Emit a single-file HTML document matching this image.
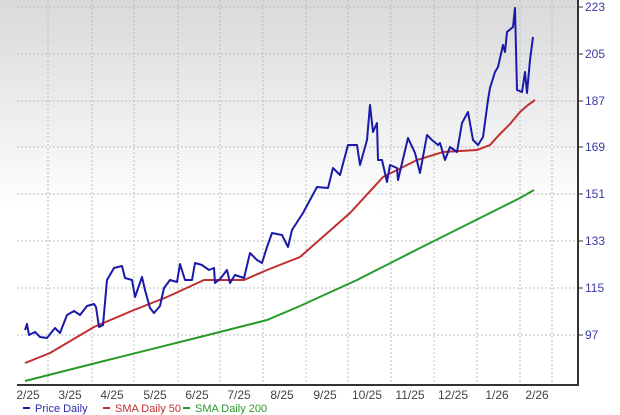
<!DOCTYPE html>
<html><head><style>
body{margin:0;background:#fff;}
svg{display:block;font-family:"Liberation Sans",sans-serif;}
</style></head><body>
<svg width="620" height="415" viewBox="0 0 620 415" xmlns="http://www.w3.org/2000/svg">
<defs><linearGradient id="bg" x1="0" y1="0" x2="0" y2="1">
<stop offset="0" stop-color="#d9d9d9"/><stop offset="0.55" stop-color="#ffffff"/><stop offset="1" stop-color="#ffffff"/></linearGradient></defs>
<rect x="0" y="0" width="578" height="385" fill="url(#bg)"/>
<g stroke="#bdbdbd" stroke-width="1" stroke-dasharray="2,2" fill="none">
<line x1="17" y1="7" x2="578" y2="7"/><line x1="17" y1="54" x2="578" y2="54"/><line x1="17" y1="101" x2="578" y2="101"/><line x1="17" y1="147" x2="578" y2="147"/><line x1="17" y1="194" x2="578" y2="194"/><line x1="17" y1="241" x2="578" y2="241"/><line x1="17" y1="288" x2="578" y2="288"/><line x1="17" y1="335" x2="578" y2="335"/>
<line x1="48" y1="0" x2="48" y2="385"/><line x1="92" y1="0" x2="92" y2="385"/><line x1="134" y1="0" x2="134" y2="385"/><line x1="178" y1="0" x2="178" y2="385"/><line x1="220" y1="0" x2="220" y2="385"/><line x1="263" y1="0" x2="263" y2="385"/><line x1="306" y1="0" x2="306" y2="385"/><line x1="348" y1="0" x2="348" y2="385"/><line x1="391" y1="0" x2="391" y2="385"/><line x1="434" y1="0" x2="434" y2="385"/><line x1="477" y1="0" x2="477" y2="385"/><line x1="520" y1="0" x2="520" y2="385"/><line x1="552" y1="0" x2="552" y2="385"/>
</g>
<line x1="17" y1="385" x2="579" y2="385" stroke="#333" stroke-width="2"/>
<line x1="578" y1="0" x2="578" y2="386" stroke="#333" stroke-width="2"/>
<g stroke="#333" stroke-width="1"><line x1="578" y1="7" x2="583" y2="7"/><line x1="578" y1="54" x2="583" y2="54"/><line x1="578" y1="101" x2="583" y2="101"/><line x1="578" y1="147" x2="583" y2="147"/><line x1="578" y1="194" x2="583" y2="194"/><line x1="578" y1="241" x2="583" y2="241"/><line x1="578" y1="288" x2="583" y2="288"/><line x1="578" y1="335" x2="583" y2="335"/></g>
<g fill="#3a3aa8" font-size="12">
<text x="585" y="11">223</text><text x="585" y="58">205</text><text x="585" y="105">187</text><text x="585" y="151">169</text><text x="585" y="198">151</text><text x="585" y="245">133</text><text x="585" y="292">115</text><text x="585" y="339">97</text>
</g>
<g fill="#444" font-size="12" text-anchor="middle">
<text x="28" y="399">2/25</text><text x="70" y="399">3/25</text><text x="112" y="399">4/25</text><text x="155" y="399">5/25</text><text x="197" y="399">6/25</text><text x="239" y="399">7/25</text><text x="282" y="399">8/25</text><text x="325" y="399">9/25</text><text x="367" y="399">10/25</text><text x="410" y="399">11/25</text><text x="453" y="399">12/25</text><text x="497" y="399">1/26</text><text x="537" y="399">2/26</text>
</g>
<g font-size="11">
<line x1="23" y1="408" x2="30" y2="408" stroke="#1a1aa8" stroke-width="2"/><text x="35" y="412" fill="#2a2ab0">Price Daily</text>
<line x1="103" y1="408" x2="110" y2="408" stroke="#c03030" stroke-width="2"/><text x="115" y="412" fill="#c03030">SMA Daily 50</text>
<line x1="183" y1="408" x2="190" y2="408" stroke="#2a9a2a" stroke-width="2"/><text x="195" y="412" fill="#2a9a2a">SMA Daily 200</text>
</g>
<polyline fill="none" stroke="#2a9a2a" stroke-width="2" points="25,381 100,362 200,337 267,320 300,306 357,280 420,248 460,228 500,208 520,198 534,190"/>
<polyline fill="none" stroke="#c03030" stroke-width="2" points="25,363 50,353 94,327 134,310 167,297 204,280 244,280 267,270 300,257 350,213 383,177 417,160 443,152 477,150 490,145 500,134 510,124 520,112 528,105 535,100"/>
<polyline fill="none" stroke="#1a1aa8" stroke-width="2" stroke-linejoin="round" points="25,330 27,324 29,335 35,332 40,337 47,338 55,328 60,333 67,315 74,311 80,315 87,306 94,304 96,307 99,327 103,325 107,280 114,268 122,266 125,278 132,280 135,297 142,277 145,290 150,308 154,313 160,306 164,288 170,280 177,282 180,264 185,280 192,280 195,263 202,265 209,270 214,268 215,283 220,279 227,270 230,283 235,275 244,278 250,253 257,260 262,263 267,247 272,233 282,235 288,247 292,230 303,213 317,187 328,188 333,168 340,175 348,145 357,145 360,165 367,140 370,105 373,132 377,123 378,160 382,160 387,182 390,165 397,168 398,180 408,138 415,153 420,173 427,135 432,140 438,145 440,143 445,160 450,147 457,152 462,123 468,112 473,140 478,145 483,137 488,100 490,88 495,72 498,67 503,45 505,52 507,32 513,27 515,8 517,90 522,92 525,72 527,93 530,60 533,37"/>
</svg>
</body></html>
